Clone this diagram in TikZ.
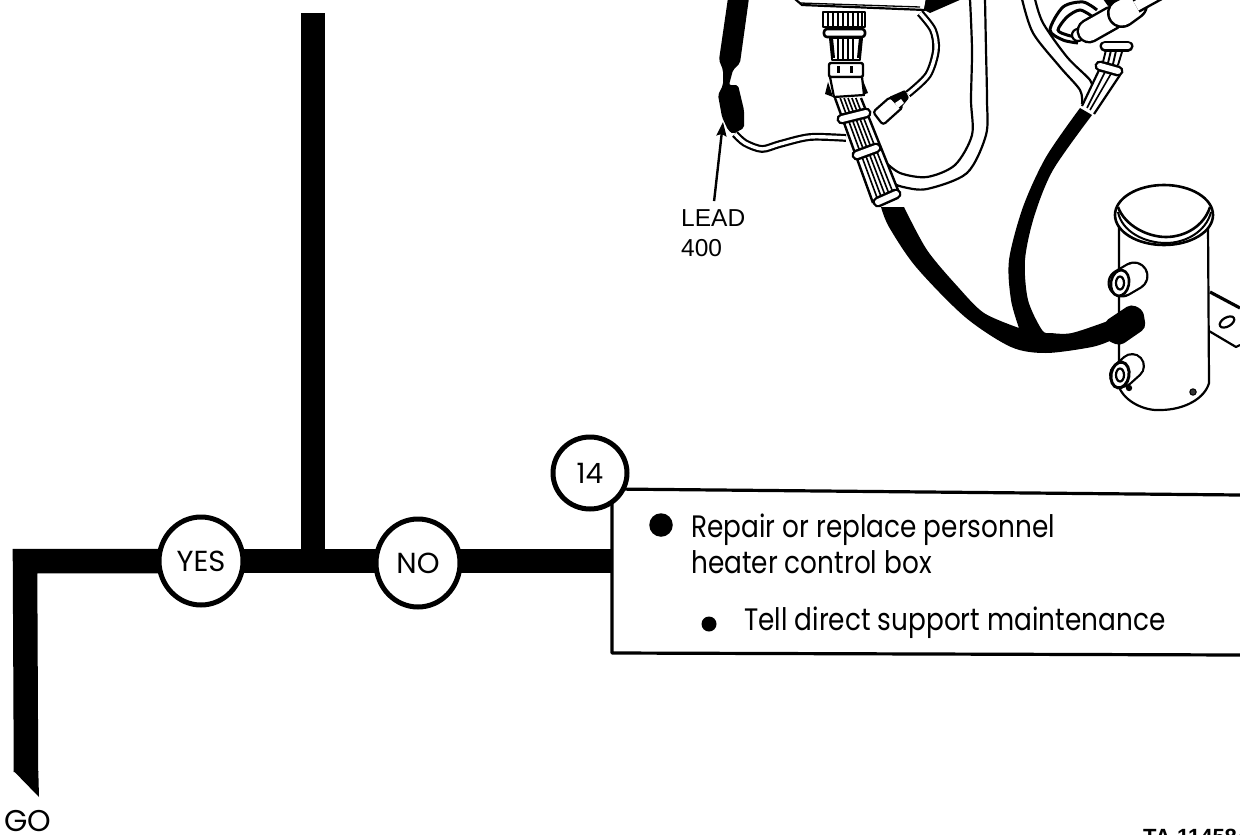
\documentclass[tikz,border=0pt]{standalone}
\usepackage{fontspec}
\usetikzlibrary{shapes.geometric,arrows.meta}
\newfontfamily\pf{Poppins}
\newfontfamily\pfn[FakeStretch=0.85]{Poppins}
\newfontfamily\ls{Liberation Sans}
\newcommand{\clampbar}[2]{\draw[black,line width=11,line cap=round] #1 -- #2; \draw[white,line width=6,line cap=round] #1 -- #2;}
\tikzset{
  flowbar/.style={black,line width=24.5},
  boxline/.style={black,line width=3.2,line join=round},
  partline/.style={black,line width=2.2,line join=round},
  thinline/.style={black,line width=1.3},
  wire/.style={black,line width=2.2,double=white,double distance=3.4},
  answer/.style={ellipse,draw=black,fill=white,line width=5,inner sep=0pt,outer sep=0pt,font=\pf\fontsize{29}{34}\selectfont},
  bodytext/.style={anchor=base west,inner sep=0pt,font=\pfn\fontsize{31}{36}\selectfont},
  lbl/.style={inner sep=0pt,font=\ls\fontsize{24.5}{30}\selectfont}
}
\begin{document}
\begin{tikzpicture}[x=1pt,y=-1pt]
\useasboundingbox (0,0) rectangle (1240,835);
% ---- coordinates of the flow
\coordinate (barTop) at (313,13);
\coordinate (corner) at (25,561);
\coordinate (goEnd) at (26,772);
\coordinate (boxLeft) at (612,561);
\coordinate (boxTL) at (612,489);
\coordinate (boxTR) at (1240,495);
\coordinate (boxBL) at (612,653);
\coordinate (boxBR) at (1240,655);
% ---- box
\draw[boxline] (boxTR) -- (boxTL) -- (boxBL) -- (boxBR);
% ---- connectors under the circles
\coordinate (yesC) at (201,561);
\coordinate (noC) at (418,561);
\draw[flowbar,line join=miter] (goEnd) -- (corner) -- (yesC);
\fill[black] (13.7,771) -- (38.3,771) -- (39,797) -- cycle;
\draw[flowbar] (yesC) -- (noC);
\draw[flowbar] (noC) -- (boxLeft);
\draw[flowbar] (barTop) -- (yesC -| barTop);
% ---- nodes
\node[answer,minimum width=84,minimum height=88] (yes) at (yesC) {YES};
\node[answer,minimum width=84,minimum height=88] (no) at (418,563) {NO};
\node[answer,minimum width=74,minimum height=72,font=\pf\fontsize{28}{34}\selectfont] (num) at (590,473) {14};
\node[anchor=base west,inner sep=0pt,font=\pf\fontsize{30}{34}\selectfont] (go) at (4,831.5) {GO};
\node[bodytext] (l1) at (691,537) {Repair or replace personnel};
\node[bodytext] (l2) at (691,573) {heater control box};
\node[bodytext] (l3) at (744,630) {Tell direct support maintenance};
\node[circle,fill=black,inner sep=0pt,minimum size=23.5] (b1) at (661,525) {};
\node[circle,fill=black,inner sep=0pt,minimum size=15] (b2) at (709,624) {};
\node[anchor=base west,inner sep=0pt,font=\ls\bfseries\fontsize{22}{24}\selectfont] (ta) at (1143,844) {TA 114584};
% ---- lead 400
\node[lbl,anchor=north west,align=left] (lead) at (681,209) {LEAD\\400};
\coordinate (leadTip) at (723,122);
\draw[black,line width=2.4,shorten <=8,-{Stealth[length=14,width=10,inset=2]}] (lead.north) -- (leadTip);
\fill[black,rounded corners=2] (728,-2) -- (749,-2) -- (740,63) -- (733,70) -- (729,85) -- (738,85) -- (744,110) -- (744,128) -- (733,134) -- (728,130) -- (722,117) -- (718,95) -- (723,85) -- (723,70) -- (719,60) -- cycle;
\draw[wire] plot[smooth] coordinates {(735,134) (745,143) (762,149) (780,144) (810,137) (846,138)};
% ---- control box bottom
\fill[black] (926,-1) -- (962,-1) -- (930,13) -- (924,10) -- cycle;
\draw[partline] (795,-1) -- (802,5) -- (925,10) -- (927,-1);
\draw[thinline] (800,3) -- (920,7);
% ---- loop cable
\draw[partline] plot[smooth] coordinates {(970,-1) (972,50) (971,100) (972,135) (955,165) (927,177) (900,173) (883,160)};
\draw[partline] plot[smooth] coordinates {(985,-1) (986,50) (987,100) (986,135) (967,173) (927,189) (903,187) (890,182)};
% ---- plug lead
\draw[wire] plot[smooth] coordinates {(920,13) (933,30) (936,50) (928,75) (908,94)};
\draw[partline,fill=white,rounded corners=3] (873,112) -- (883,125) -- (903,107) -- (890,97) -- cycle;
\fill[black,rounded corners=1] (889,97) -- (905,90) -- (909,98) -- (900,109) -- cycle;
\fill[white] (895,103) -- (901,99) -- (904,103) -- (898,108) -- cycle;
% ---- main connector
\draw[partline,fill=white] (823,12) rectangle (865,27);
\foreach \x in {828,833,838,843,848,853,858,862} \draw[thinline] (\x,12) -- (\x,27);
\draw[partline,fill=white,rounded corners=3,line width=2.6] (824,29) rectangle (865,37);
\draw[partline,fill=white,line width=2.6] (832,38) rectangle (860,60);
\foreach \x in {838,843,848,853} \draw[thinline,line width=1.7] (\x,39) -- (\x,59);
\draw[black,line width=4] (831,38) -- (833,58) (861,38) -- (859,58);
\draw[partline,fill=white,rounded corners=2,line width=2.4] (829,63) rectangle (863,77);
\draw[black,line width=3] (838,66) -- (838,73) (851,66) -- (851,73);
\fill[black] (828,82) -- (825,94) -- (833,97) -- cycle;
\fill[black] (862,78) -- (868,93) -- (862,95) -- cycle;
\draw[partline,fill=white] (830,77) -- (862,77) -- (864,95) -- (834,97) -- cycle;
% ---- wire bundle
\fill[white] (835,98) -- (861,98) -- (900,195) -- (873,203) -- cycle;
\draw[black,line width=2.4] (835,98) -- (873,203) (861,98) -- (900,195);
\foreach \t in {0.2,0.35,0.5,0.65,0.8} \draw[black,line width=1.6] ({835+26*\t},98) -- ({873+27*\t},{203-8*\t});
\clampbar{(842,119)}{(866,113)}
\clampbar{(857,155)}{(876,148)}
\clampbar{(878,202)}{(896,194)}
% ---- right-hand cable and loop
\draw[partline] plot[smooth] coordinates {(1022,-1) (1033,33) (1060,67) (1080,90) (1082,104)};
\draw[partline] plot[smooth] coordinates {(1035,-1) (1043,23) (1067,57) (1090,80) (1092,90)};
\draw[black,line width=3] plot[smooth] coordinates {(1097,10) (1083,2) (1063,7) (1050,30) (1063,40) (1078,43)};
\draw[black,line width=3] plot[smooth] coordinates {(1093,17) (1080,10) (1067,17) (1058,30) (1067,35) (1077,37)};
% wires of the right bundle
\fill[white] (1082,106) -- (1100,68) -- (1120,75) -- (1094,114) -- cycle;
\draw[black,line width=2.2] (1082,106) -- (1100,68) (1094,114) -- (1120,75);
\draw[black,line width=1.6] (1087,108) -- (1106,70) (1090,110) -- (1112,72);
\fill[white] (1103,60) -- (1108,40) -- (1128,40) -- (1119,66) -- cycle;
\draw[black,line width=1.9] (1103,62) -- (1108,42) (1108,63) -- (1113,42) (1113,64) -- (1118,42) (1118,65) -- (1125,42);
\clampbar{(1105,46)}{(1128,46)}
\clampbar{(1100,66)}{(1118,71)}
% connector tubes
\draw[partline,fill=white] (1078,35) circle (6);
\draw[black,line width=25,line cap=round] (1089,31) -- (1112,18);
\draw[white,line width=20,line cap=round] (1089,31) -- (1112,18);
\draw[black,line width=30,line cap=round] (1122,13) -- (1133,5);
\draw[white,line width=25,line cap=round] (1122,13) -- (1133,5);
\draw[black,line width=15] (1136,6) -- (1165,-10);
\draw[white,line width=10] (1136,6) -- (1165,-10);
\fill[black] (1103,-1) -- (1122,-1) -- (1108,6) -- cycle;
% ---- heater body
\fill[white] (1210,292) -- (1240,307) -- (1240,346) -- (1237,347) -- (1208,331) -- cycle;
\draw[black,line width=3.2] (1210,292) -- (1240,308);
\draw[partline] (1209,331) -- (1236,347) -- (1240,345);
\draw[partline,rotate around={30:(1227,322)}] (1227,322) ellipse (8 and 4.5);
\draw[partline,fill=white] (1119,225) -- (1119,387) .. controls (1125,402) and (1145,411) .. (1160,410) .. controls (1185,410) and (1205,398) .. (1209,383) -- (1208,225) -- cycle;
\draw[black,line width=2.6,fill=white] (1164,215) ellipse (49 and 30);
\draw[black,line width=2] (1118,212) .. controls (1122,232) and (1145,243) .. (1166,243) .. controls (1185,243) and (1206,232) .. (1211,212);
\draw[black,line width=2.6] (1118,207) .. controls (1125,226) and (1148,237) .. (1166,237) .. controls (1185,237) and (1204,226) .. (1210,207);
% bosses
\draw[black,line width=29,line cap=round] (1122,283) -- (1134,276);
\draw[white,line width=24.5,line cap=round] (1122,283) -- (1134,276);
\draw[black,line width=2.6,fill=white,rotate around={-10:(1120,283)}] (1120,283) ellipse (9 and 13);
\draw[black,line width=2.2] (1120,283) ellipse (4 and 6.5);
\draw[black,line width=26,line cap=round] (1122,375) -- (1132,366);
\draw[white,line width=21.5,line cap=round] (1122,375) -- (1132,366);
\draw[black,line width=3,fill=white,rotate around={-10:(1120,375)}] (1120,375) ellipse (9 and 13);
\draw[black,line width=2.2] (1120,375) ellipse (4 and 6.5);
\fill[black] (1129,388) circle (3.2);
\draw[black,line width=1,fill=black!80] (1193,392) circle (3.2);
% ---- black cables
\fill[black] plot[smooth] coordinates {(881,207) (889,227) (916,267) (965,317) (1011,347) (1046,353) (1092,347) (1112,340)}
  -- (1112,322)
  -- plot[smooth] coordinates {(1108,321) (1072,333) (1051,333) (1042,330) (1028,300) (1025,260) (1034,217) (1053,170) (1092,115)}
  -- plot[smooth] coordinates {(1080,108) (1046,157) (1023,207) (1009,260) (1011,300) (1019,328)}
  -- plot[smooth] coordinates {(1019,328) (984,313) (958,287) (927,250) (904,207)} -- cycle;
\fill[black,rounded corners=5] (1104,322) -- (1131,304) -- (1143,310) -- (1146,328) -- (1120,346) -- (1106,340) -- cycle;
\end{tikzpicture}
\end{document}
